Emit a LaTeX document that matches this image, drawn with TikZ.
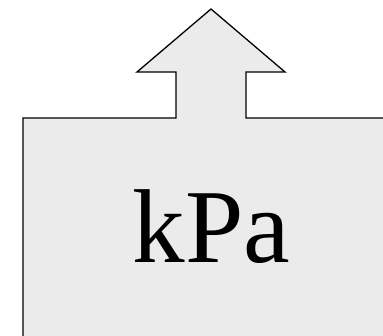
\documentclass[tikz,border=0pt]{standalone}
\usepackage{fontspec}
\setmainfont{Liberation Serif}
\definecolor{boxfill}{HTML}{EBEBEB}
\begin{document}
\begin{tikzpicture}[x=1pt,y=-1pt,
  outline/.style={draw=black,fill=boxfill,line width=1.3pt,line join=miter},
  bigtext/.style={font=\fontsize{105}{120}\selectfont,inner sep=0pt,anchor=base}]
\useasboundingbox (0,0) rectangle (383,336);
\clip (0,0) rectangle (383,336);
\draw[outline] (23,345) -- (23,118) -- (176,118) -- (176,72) -- (137,72) -- (211,9)
  -- (285,72) -- (246,72) -- (246,118) -- (395,118) -- (395,345) -- cycle;
\node[bigtext] (label) at (211.5,263) {kPa};
\end{tikzpicture}
\end{document}
